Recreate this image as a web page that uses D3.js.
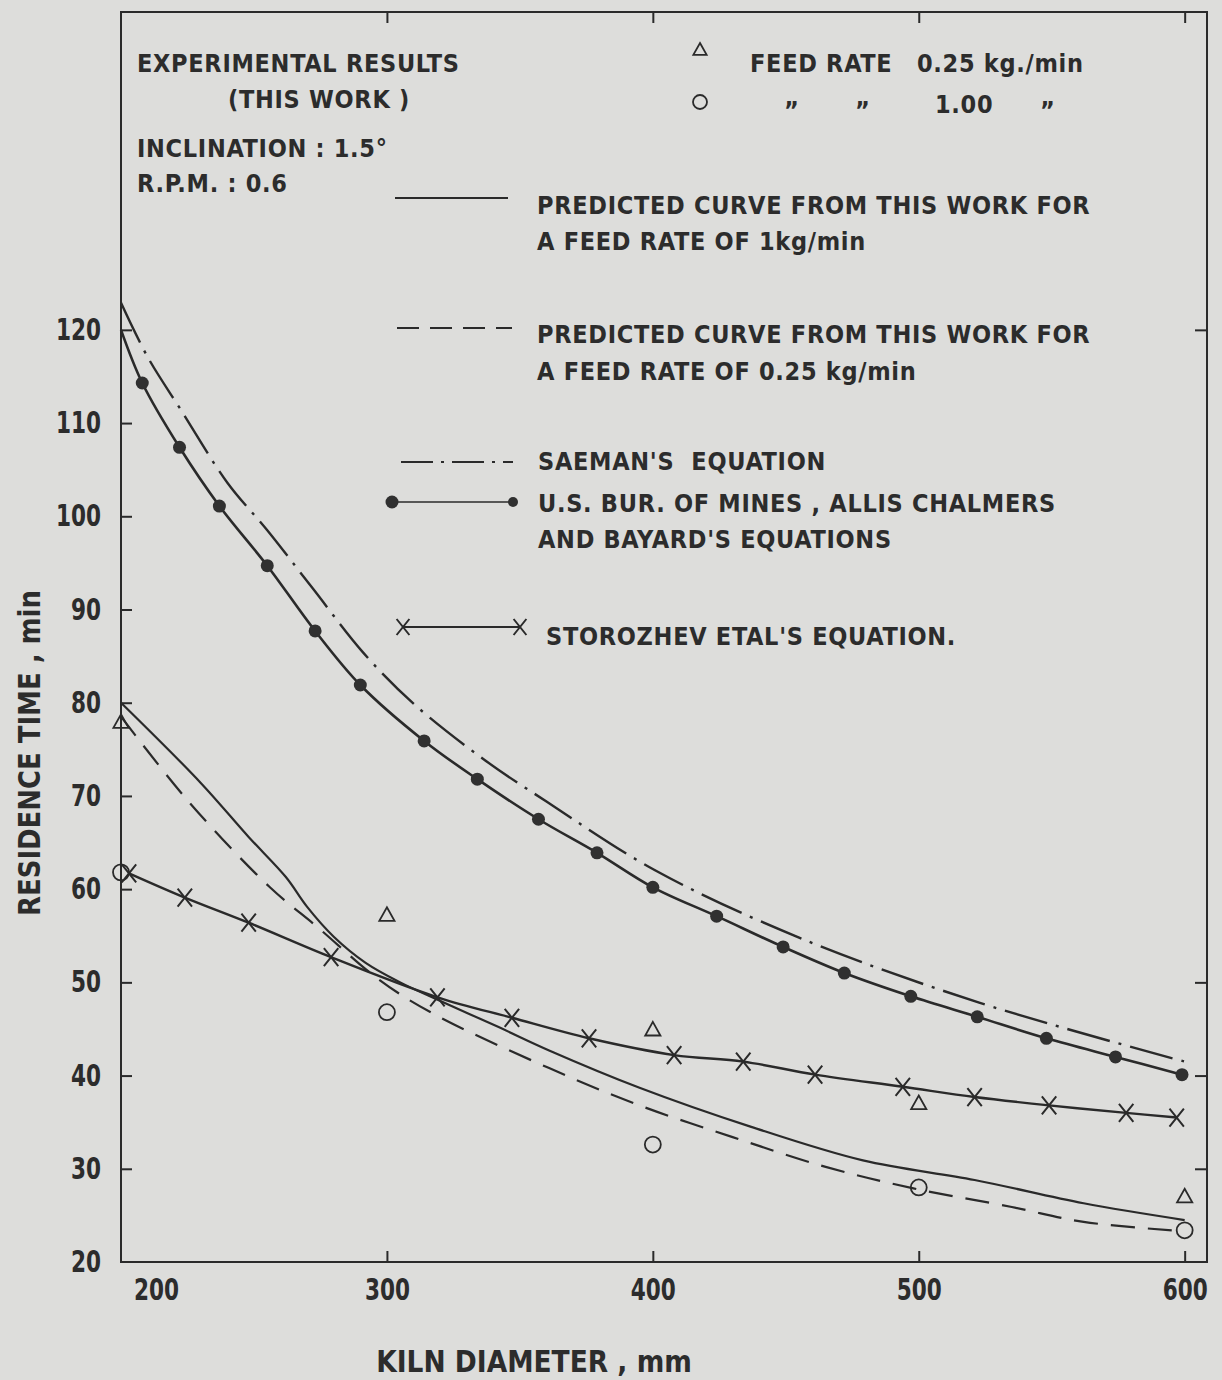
<!DOCTYPE html>
<html>
<head>
<meta charset="utf-8">
<script src="https://cdn.jsdelivr.net/npm/d3@7"></script>
<style>
  html, body { margin: 0; padding: 0; background: #dddddb; }
  svg { display: block; }
  .lbl { font-family: "DejaVu Sans Condensed", "DejaVu Sans", sans-serif; font-weight: bold; fill: #2c2c2c; letter-spacing: 0.7px; white-space: pre; }
  .num { font-family: "DejaVu Sans Condensed", "DejaVu Sans", sans-serif; font-weight: bold; fill: #2c2c2c; }
</style>
</head>
<body>
<svg id="chart" width="1222" height="1380"></svg>
<script>
// ---- data (kiln diameter in mm, residence time in min) ----
const xTickValues = [200, 300, 400, 500, 600];
const yTickValues = [20, 30, 40, 50, 60, 70, 80, 90, 100, 110, 120];

// U.S. Bur. of Mines, Allis Chalmers and Bayard's equations (dots on curve)
const usbmX = [200, 208, 222, 237, 255, 273, 290, 314, 334, 357, 379, 400, 424, 449, 472, 497, 522, 548, 574, 599];
const usbmY = [120.0, 114.3, 107.4, 101.1, 94.7, 87.7, 81.9, 75.9, 71.8, 67.5, 63.9, 60.2, 57.1, 53.8, 51.0, 48.5, 46.3, 44.0, 42.0, 40.1];

// Saeman's equation
const saemanX = [200, 210, 223, 240, 255, 272, 291, 310, 337, 360, 401, 455, 523, 600];
const saemanY = [122.9, 117.1, 111.2, 103.6, 98.5, 92.3, 85.4, 79.9, 73.8, 69.4, 62.0, 54.8, 47.8, 41.5];

// Storozhev et al.'s equation (crosses on curve)
const storX = [203, 224, 248, 279, 319, 347, 376, 408, 434, 461, 494, 521, 549, 578, 597];
const storY = [61.7, 59.1, 56.4, 52.7, 48.4, 46.2, 44.0, 42.2, 41.5, 40.1, 38.8, 37.7, 36.8, 36.0, 35.5];

// Predicted curve, feed rate 1 kg/min
const pred1X = [200, 230, 248, 262, 270, 280, 292, 305, 317, 342, 361, 395, 437, 479, 521, 562, 600];
const pred1Y = [80.0, 71.4, 65.6, 61.3, 58.1, 54.9, 52.1, 50.0, 48.4, 45.2, 42.7, 38.7, 34.5, 30.9, 28.8, 26.3, 24.5];

// Predicted curve, feed rate 0.25 kg/min
const pred025X = [200, 226, 256, 274, 297, 317, 361, 395, 430, 465, 498, 535, 562, 600];
const pred025Y = [78.5, 69.2, 60.2, 55.9, 50.3, 46.7, 40.8, 36.8, 33.4, 30.2, 27.9, 25.9, 24.3, 23.3];

// Experimental results
const expTriX = [200, 300, 400, 500, 600];
const expTriY = [77.9, 57.2, 44.9, 37.0, 27.0];
const expCircX = [200, 300, 400, 500, 600];
const expCircY = [61.8, 46.8, 32.6, 28.0, 23.4];

// ---- drawing ----
const svg = d3.select("#chart");
const ink = "#2a2a2a";
const narrow = 0.8; // horizontal squeeze for the stencil-style numerals

const x = d3.scaleLinear().domain([200, 608.4]).range([121, 1207]);
const y = d3.scaleLinear().domain([20, 154.1]).range([1262, 12]);

const zip = (xs, ys) => xs.map((v, i) => [v, ys[i]]);
const line = d3.line().x(d => x(d[0])).y(d => y(d[1])).curve(d3.curveCatmullRom.alpha(0.5));

// frame
svg.append("rect")
  .attr("x", x.range()[0]).attr("y", y.range()[1])
  .attr("width", x.range()[1] - x.range()[0])
  .attr("height", y.range()[0] - y.range()[1])
  .attr("fill", "none").attr("stroke", ink).attr("stroke-width", 2);

// bottom axis, ticks pointing inward
const gx = svg.append("g").attr("transform", `translate(0,${y(20)})`)
  .call(d3.axisBottom(x).tickValues(xTickValues).tickFormat(d3.format("d"))
    .tickSizeInner(-11).tickSizeOuter(0).tickPadding(17));
gx.select(".domain").remove();
gx.selectAll(".tick line").attr("stroke", ink).attr("stroke-width", 2)
  .filter(d => d === 200).remove();
gx.selectAll(".tick text").attr("class", "num").attr("font-size", 30)
  .attr("transform", d => `translate(${d === 200 ? 35 : 0},0) scale(${narrow},1)`);

// top ticks
const gxt = svg.append("g").attr("transform", `translate(0,${y.range()[1]})`)
  .call(d3.axisTop(x).tickValues(xTickValues.slice(1)).tickSizeInner(-11).tickSizeOuter(0).tickFormat(""));
gxt.select(".domain").remove();
gxt.selectAll(".tick line").attr("stroke", ink).attr("stroke-width", 2);

// left axis, ticks pointing inward
const gy = svg.append("g").attr("transform", `translate(${x(200)},0)`)
  .call(d3.axisLeft(y).tickValues(yTickValues).tickFormat(d3.format("d"))
    .tickSizeInner(-11).tickSizeOuter(0).tickPadding(20));
gy.select(".domain").remove();
gy.selectAll(".tick line").attr("stroke", ink).attr("stroke-width", 2)
  .filter(d => d === 20).remove();
gy.selectAll(".tick text").attr("class", "num").attr("font-size", 30)
  .attr("x", 0).attr("transform", `translate(-20,0) scale(${narrow},1)`);

// right ticks
const gyr = svg.append("g").attr("transform", `translate(${x.range()[1]},0)`)
  .call(d3.axisRight(y).tickValues([30, 40, 50, 120]).tickSizeInner(-12).tickSizeOuter(0).tickFormat(""));
gyr.select(".domain").remove();
gyr.selectAll(".tick line").attr("stroke", ink).attr("stroke-width", 2);

// axis titles
svg.append("text").attr("class", "num").attr("font-size", 31)
  .attr("transform", "translate(534,1372) scale(0.95,1)").attr("text-anchor", "middle")
  .text("KILN DIAMETER , mm");
svg.append("text").attr("class", "num").attr("font-size", 31)
  .attr("transform", "translate(40,753) rotate(-90) scale(0.93,1)").attr("text-anchor", "middle")
  .text("RESIDENCE TIME , min");

// curves
svg.append("path").datum(zip(saemanX, saemanY)).attr("d", line)
  .attr("fill", "none").attr("stroke", ink).attr("stroke-width", 2.4)
  .attr("stroke-dasharray", "44 9 3 9");
svg.append("path").datum(zip(usbmX, usbmY)).attr("d", line)
  .attr("fill", "none").attr("stroke", ink).attr("stroke-width", 2.6);
svg.append("path").datum(zip(pred1X, pred1Y)).attr("d", line)
  .attr("fill", "none").attr("stroke", ink).attr("stroke-width", 2.2);
svg.append("path").datum(zip(pred025X, pred025Y)).attr("d", line)
  .attr("fill", "none").attr("stroke", ink).attr("stroke-width", 2.2)
  .attr("stroke-dasharray", "24 13");
svg.append("path").datum(zip(storX, storY)).attr("d", line)
  .attr("fill", "none").attr("stroke", ink).attr("stroke-width", 2.4);

// markers
const dot = (g, cx, cy) => g.append("circle").attr("cx", cx).attr("cy", cy).attr("r", 6.5).attr("fill", "#303030");
const cross = (g, cx, cy, s) => g.append("path")
  .attr("d", `M${cx - s * 0.8},${cy - s}L${cx + s * 0.8},${cy + s}M${cx + s * 0.8},${cy - s}L${cx - s * 0.8},${cy + s}`)
  .attr("stroke", ink).attr("stroke-width", 2).attr("fill", "none");
const tri = (g, cx, cy, s) => g.append("path")
  .attr("d", `M${cx},${cy - s}L${cx + s * 0.95},${cy + s * 0.7}L${cx - s * 0.95},${cy + s * 0.7}Z`)
  .attr("stroke", ink).attr("stroke-width", 1.8).attr("fill", "none");
const ring = (g, cx, cy, r) => g.append("circle").attr("cx", cx).attr("cy", cy).attr("r", r)
  .attr("fill", "none").attr("stroke", ink).attr("stroke-width", 1.8);

const gm = svg.append("g");
zip(usbmX, usbmY).slice(1).forEach(d => dot(gm, x(d[0]), y(d[1])));
zip(storX, storY).forEach(d => cross(gm, x(d[0]), y(d[1]), 9));
zip(expTriX, expTriY).forEach(d => tri(gm, x(d[0]), y(d[1]), 8));
zip(expCircX, expCircY).forEach(d => ring(gm, x(d[0]), y(d[1]), 8));

// legend and notes
const txt = (s, tx, ty) => svg.append("text").attr("class", "lbl").attr("font-size", 25)
  .attr("x", tx).attr("y", ty).text(s);
txt("EXPERIMENTAL RESULTS", 137, 72);
txt("(THIS WORK )", 228, 108);
txt("INCLINATION : 1.5°", 137, 157);
txt("R.P.M. : 0.6", 137, 192);

tri(svg, 700, 50, 7);
txt("FEED RATE", 750, 72);
txt("0.25 kg./min", 917, 72);
ring(svg, 700, 102, 7);
txt("\u201D", 784, 119);
txt("\u201D", 855, 119);
txt("1.00", 935, 113);
txt("\u201D", 1040, 119);

svg.append("line").attr("x1", 395).attr("x2", 508).attr("y1", 198).attr("y2", 198)
  .attr("stroke", ink).attr("stroke-width", 2);
txt("PREDICTED CURVE FROM THIS WORK FOR", 537, 214);
txt("A FEED RATE OF 1kg/min", 537, 250);

svg.append("line").attr("x1", 397).attr("x2", 512).attr("y1", 328).attr("y2", 328)
  .attr("stroke", ink).attr("stroke-width", 2).attr("stroke-dasharray", "22 11");
txt("PREDICTED CURVE FROM THIS WORK FOR", 537, 343);
txt("A FEED RATE OF 0.25 kg/min", 537, 380);

svg.append("line").attr("x1", 401).attr("x2", 513).attr("y1", 462).attr("y2", 462)
  .attr("stroke", ink).attr("stroke-width", 2).attr("stroke-dasharray", "32 8 3 8");
txt("SAEMAN'S  EQUATION", 538, 470);

svg.append("line").attr("x1", 392).attr("x2", 513).attr("y1", 502).attr("y2", 502)
  .attr("stroke", ink).attr("stroke-width", 1.3);
dot(svg, 392, 502); dot(svg, 513, 502).attr("r", 5);
txt("U.S. BUR. OF MINES , ALLIS CHALMERS", 538, 512);
txt("AND BAYARD'S EQUATIONS", 538, 548);

svg.append("line").attr("x1", 403).attr("x2", 520).attr("y1", 627).attr("y2", 627)
  .attr("stroke", ink).attr("stroke-width", 1.8);
cross(svg, 403, 627, 8); cross(svg, 520, 627, 8);
txt("STOROZHEV ETAL'S EQUATION.", 546, 645);
</script>
</body>
</html>
